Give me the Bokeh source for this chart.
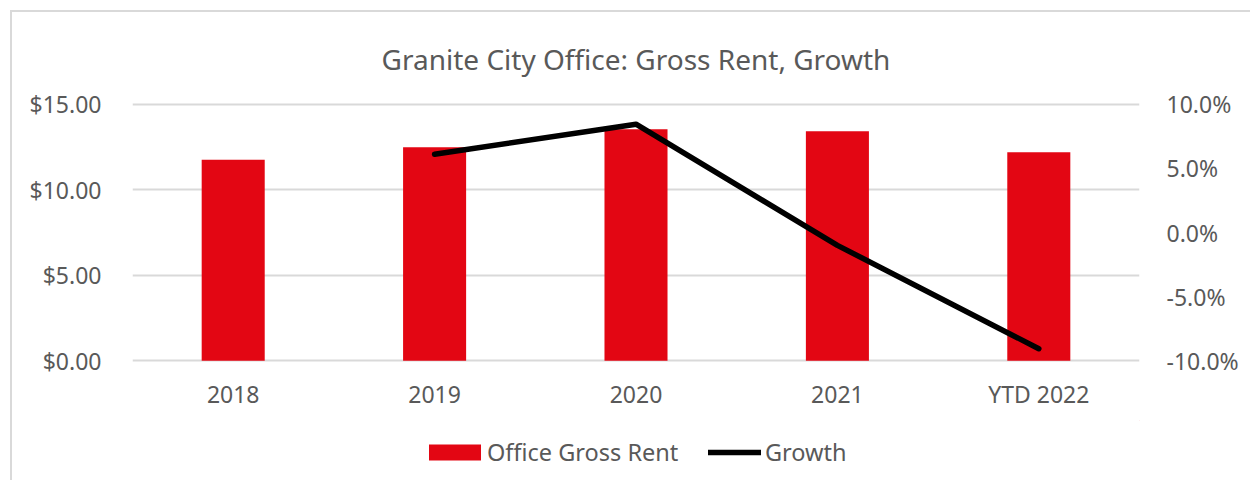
from bokeh.plotting import figure
from bokeh.layouts import column
from bokeh.models import (Range1d, LinearAxis, NumeralTickFormatter, FactorRange,
                          Legend, LegendItem, FixedTicker, ColumnDataSource)
from bokeh.embed import file_html
from bokeh.resources import INLINE

categories = ["2018", "2019", "2020", "2021", "YTD 2022"]
gross_rent = [11.76, 12.48, 13.53, 13.42, 12.19]
growth_cats = ["2019", "2020", "2021", "YTD 2022"]
growth_pct = [0.061, 0.0844, -0.010, -0.0906]

FONT = "Noto Sans"
TXT = "#595959"
GRID = "#d9d9d9"
RED = "#E30613"
W = 1240

pad = 0.1  # small padding so that the outer gridlines are not clipped
p = figure(x_range=FactorRange(*categories, range_padding=0),
           y_range=Range1d(0 - pad, 15 + pad),
           width=W, height=410,
           output_backend="svg", toolbar_location=None,
           min_border_left=120, min_border_right=113,
           min_border_top=90, min_border_bottom=60)
p.margin = (10, 0, 0, 10)
p.styles = {"border-top": "2px solid #d9d9d9", "border-left": "2px solid #d9d9d9"}
p.outline_line_color = None
p.background_fill_color = "white"
p.border_fill_color = "white"

p.title.text = "Granite City Office: Gross Rent, Growth"
p.title.align = "center"
p.title.text_font = FONT
p.title.text_font_size = "28px"
p.title.text_font_style = "normal"
p.title.text_color = TXT
p.title.standoff = 50

k = 0.20 / 15.0
p.extra_y_ranges = {"pct": Range1d(-0.10 - pad * k, 0.10 + pad * k)}

src = ColumnDataSource(dict(x=categories, y=gross_rent))
bars = p.vbar(x="x", top="y", width=0.313, source=src, fill_color=RED, line_color=None)
gsrc = ColumnDataSource(dict(x=growth_cats, y=growth_pct))
line = p.line(x="x", y="y", source=gsrc, y_range_name="pct", line_color="black",
              line_width=5.5, line_cap="round", line_join="round")

p.xgrid.grid_line_color = None
p.ygrid.grid_line_color = GRID
p.ygrid.grid_line_width = 2
p.yaxis.ticker = FixedTicker(ticks=[0, 5, 10, 15])
p.yaxis.formatter = NumeralTickFormatter(format="$0.00")

for ax in [p.xaxis[0], p.yaxis[0]]:
    ax.axis_line_color = None
    ax.major_tick_line_color = None
    ax.minor_tick_line_color = None
    ax.major_tick_out = 0
    ax.major_label_text_font = FONT
    ax.major_label_text_font_size = "23px"
    ax.major_label_text_color = TXT
p.xaxis.major_label_standoff = 15
p.yaxis.major_label_standoff = 31

rax = LinearAxis(y_range_name="pct", ticker=FixedTicker(ticks=[-0.10, -0.05, 0.0, 0.05, 0.10]),
                 formatter=NumeralTickFormatter(format="0.0%"))
rax.axis_line_color = None
rax.major_tick_line_color = None
rax.minor_tick_line_color = None
rax.major_tick_out = 0
rax.major_label_text_font = FONT
rax.major_label_text_font_size = "23px"
rax.major_label_text_color = TXT
rax.major_label_standoff = 27
p.add_layout(rax, "right")

# legend strip below the chart (its frame is aligned with the chart's frame)
pleg = figure(width=W, height=60, x_range=Range1d(0, 1), y_range=Range1d(0, 1),
              output_backend="svg", toolbar_location=None,
              x_axis_type=None, y_axis_type=None,
              min_border_left=0, min_border_right=0, min_border_top=0, min_border_bottom=0)
pleg.margin = (0, 0, 0, 10)
pleg.styles = {"border-left": "2px solid #d9d9d9"}
pleg.outline_line_color = None
pleg.grid.visible = False
# swatch renderers: data kept outside the visible range, only used for legend glyphs
lb = pleg.vbar(x=[5], top=[5], bottom=[4], width=0.3, fill_color=RED, line_color=None)
ll = pleg.line(x=[5, 6], y=[5, 5], line_color="black", line_width=5.5, line_cap="round")

common = dict(orientation="horizontal", padding=0, margin=0, border_line_color=None,
              background_fill_alpha=0, label_text_font=FONT,
              label_text_font_size="23.5px", label_text_color=TXT)
leg1 = Legend(items=[LegendItem(label="Office Gross Rent", renderers=[lb])],
              location=(290, 12), glyph_width=65, glyph_height=20, label_standoff=0, **common)
leg2 = Legend(items=[LegendItem(label="Growth", renderers=[ll])],
              location=(576, 12), glyph_width=53, glyph_height=20, label_standoff=4, **common)
pleg.add_layout(leg1, "center")
pleg.add_layout(leg2, "center")

layout = column(p, pleg, spacing=0)
open("out.html", "w").write(file_html(layout, INLINE))
